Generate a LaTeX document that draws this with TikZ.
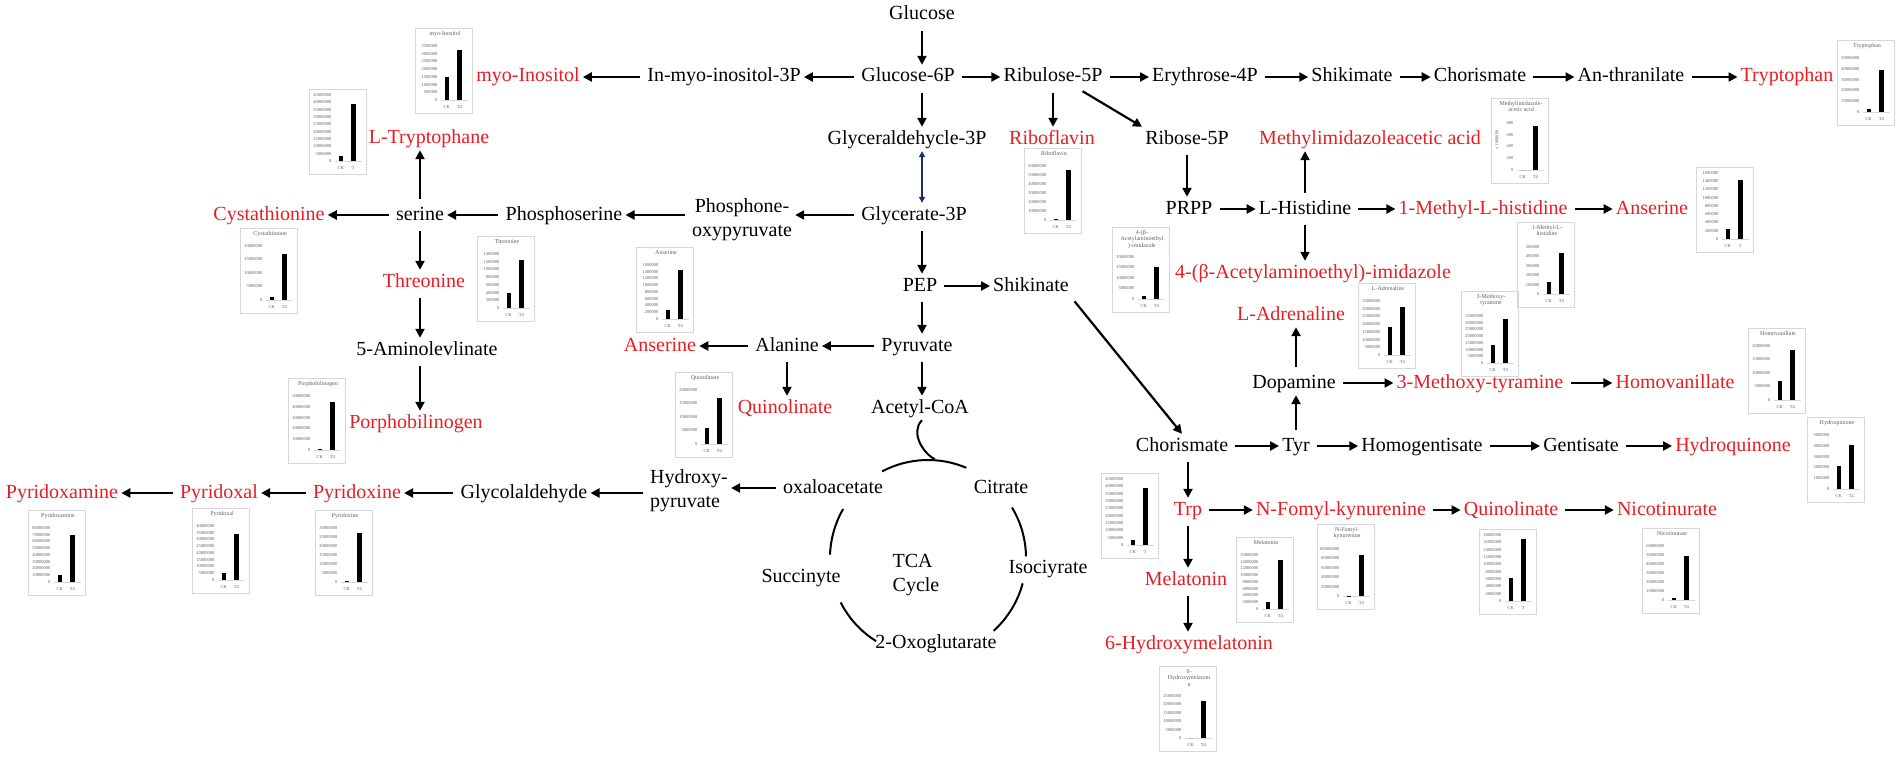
\documentclass[tikz,border=0pt]{standalone}
\usepackage{fontspec}
\setmainfont{Liberation Serif}
\usepackage{tikz}
\usetikzlibrary{calc,arrows.meta}

\definecolor{upred}{RGB}{230,30,35}
\definecolor{navyline}{RGB}{25,45,115}
\definecolor{boxgray}{RGB}{215,215,215}
\definecolor{labgray}{RGB}{95,95,95}

% small bar chart: x, y, title, plot top, intervals, tick labels, CK, T, T label
\newcommand{\minichart}[9]{%
  \begin{scope}[shift={(#1,#2)}]
    \draw[chartbox] (0,0) rectangle (57,85);
    \node[charttitle] at (30,3) {#3};
    \foreach \lab [count=\i from 0] in {#6}
      \node[charttick, anchor=east] at (23,{72-\i*(72-#4)/#5}) {\lab};
    \draw[chartaxis] (26,72) -- (53,72);
    \fill (29.5,72) rectangle (34,{72-(72-#4)*#7});
    \fill (42,72) rectangle (46.5,{72-(72-#4)*#8});
    \node[charttick] at (31.75,79) {CK};
    \node[charttick] at (44.25,79) {#9};
  \end{scope}}

\begin{document}
\begin{tikzpicture}[x=1pt,y=-1pt,
    met/.style={font=\fontsize{20}{24}\selectfont, inner sep=3pt, text height=14pt, text depth=4pt},
    upmet/.style={met, text=upred},
    twoline/.style={font=\fontsize{20}{24}\selectfont, inner sep=3pt},
    arr/.style={line width=2.2pt, shorten <=4pt, -{Triangle[length=9pt,width=9pt]}},
    dblarr/.style={line width=1.4pt, navyline, {Triangle[length=6pt,width=6pt]}-{Triangle[length=6pt,width=6pt]}},
    cyc/.style={line width=2pt},
    chartbox/.style={draw=boxgray, line width=0.6pt},
    chartaxis/.style={draw=boxgray, line width=0.4pt},
    charttitle/.style={anchor=north, align=center, inner sep=0pt, text=labgray, font=\fontsize{6}{6.5}\selectfont},
    charttick/.style={inner sep=0.5pt, text=labgray, font=\fontsize{4.5}{5}\selectfont}]

    \useasboundingbox (0,0) rectangle (1902,757);

    % top row
    \node[met] (glucose) at (922,15) {Glucose};
    \node[met] (gsix) at (908,77) {Glucose-6P};
    \node[met] (inmyo) at (724,77) {In-myo-inositol-3P};
    \node[upmet] (myoino) at (528,77) {myo-Inositol};
    \node[met] (ribulose) at (1053,77) {Ribulose-5P};
    \node[met] (erythrose) at (1205,77) {Erythrose-4P};
    \node[met] (shikimate) at (1352,77) {Shikimate};
    \node[met] (chortop) at (1480,77) {Chorismate};
    \node[met] (anthra) at (1631,77) {An-thranilate};
    \node[upmet] (tryptophan) at (1787,77) {Tryptophan};

    % second row
    \node[upmet] (ltrp) at (429,138) {L-Tryptophane};
    \node[met] (gly3p) at (907,139) {Glyceraldehycle-3P};
    \node[upmet] (riboflavin) at (1052,139) {Riboflavin};
    \node[met] (ribose) at (1187,139) {Ribose-5P};
    \node[upmet] (methyl) at (1370,139) {Methylimidazoleacetic acid};

    % serine / histidine row
    \node[upmet] (cysta) at (269,215) {Cystathionine};
    \node[met] (serine) at (420,215) {serine};
    \node[met] (phser) at (564,215) {Phosphoserine};
    \node[twoline, align=center] (phone) at (742,220) {Phosphone-\\oxypyruvate};
    \node[met] (glycerate) at (914,215) {Glycerate-3P};
    \node[met] (prpp) at (1189,209) {PRPP};
    \node[met] (lhis) at (1305,209) {L-Histidine};
    \node[upmet] (mlhis) at (1483,209) {1-Methyl-L-histidine};
    \node[upmet] (anserR) at (1652,209) {Anserine};

    % middle part
    \node[upmet] (threo) at (424,282) {Threonine};
    \node[upmet] (acetyl4) at (1313,273) {4-(β-Acetylaminoethyl)-imidazole};
    \node[met] (pep) at (920,286) {PEP};
    \node[met] (shikinate) at (1031,286) {Shikinate};
    \node[upmet] (ladren) at (1291,315) {L-Adrenaline};
    \node[met] (amino) at (427,350) {5-Aminolevlinate};
    \node[upmet] (anserL) at (660,346) {Anserine};
    \node[met] (alanine) at (787,346) {Alanine};
    \node[met] (pyruvate) at (917,346) {Pyruvate};
    \node[met] (dopamine) at (1294,383) {Dopamine};
    \node[upmet] (methoxy) at (1480,383) {3-Methoxy-tyramine};
    \node[upmet] (homova) at (1675,383) {Homovanillate};
    \node[upmet] (quinL) at (785,408) {Quinolinate};
    \node[met] (acetyl) at (920,408) {Acetyl-CoA};
    \node[upmet] (porpho) at (416,423) {Porphobilinogen};
    \node[met] (chormid) at (1182,446) {Chorismate};
    \node[met] (tyr) at (1296,446) {Tyr};
    \node[met] (homogen) at (1422,446) {Homogentisate};
    \node[met] (gentis) at (1581,446) {Gentisate};
    \node[upmet] (hydroq) at (1733,446) {Hydroquinone};

    % lower part
    \node[twoline, align=left] (hydroxy) at (689,491) {Hydroxy-\\pyruvate};
    \node[met] (oxalo) at (833,488) {oxaloacetate};
    \node[met] (citrate) at (1001,488) {Citrate};
    \node[upmet] (pyridoxamine) at (62,493) {Pyridoxamine};
    \node[upmet] (pyridoxal) at (219,493) {Pyridoxal};
    \node[upmet] (pyridoxine) at (357,493) {Pyridoxine};
    \node[met] (glycol) at (524,493) {Glycolaldehyde};
    \node[upmet] (trp) at (1188,510) {Trp};
    \node[upmet] (nfomyl) at (1341,510) {N-Fomyl-kynurenine};
    \node[upmet] (quinR) at (1511,510) {Quinolinate};
    \node[upmet] (nicotin) at (1667,510) {Nicotinurate};
    \node[twoline, align=left] (tca) at (916,575) {TCA\\Cycle};
    \node[met] (succ) at (801,577) {Succinyte};
    \node[met] (isoc) at (1048,568) {Isociyrate};
    \node[upmet] (melatonin) at (1186,580) {Melatonin};
    \node[met] (oxoglu) at (936,643) {2-Oxoglutarate};
    \node[upmet] (hydroxymel) at (1189,644) {6-Hydroxymelatonin};

    % glycolysis spine
    \draw[arr] (glucose.south) -- (glucose.south |- gsix.north);
    \draw[arr] (glucose |- gsix.south) -- (glucose |- gly3p.north);
    \draw[dblarr] (glucose |- gly3p.south) -- (glucose |- glycerate.north);
    \draw[arr] (glucose |- glycerate.south) -- (glucose |- pep.north);
    \draw[arr] (glucose |- pep.south) -- (glucose |- pyruvate.north);
    \draw[arr] (glucose |- pyruvate.south) -- (glucose |- acetyl.north);

    % top row arrows
    \draw[arr] (gsix) -- (inmyo);
    \draw[arr] (inmyo) -- (myoino);
    \draw[arr] (gsix) -- (ribulose);
    \draw[arr] (ribulose) -- (erythrose);
    \draw[arr] (erythrose) -- (shikimate);
    \draw[arr] (shikimate) -- (chortop);
    \draw[arr] (chortop) -- (anthra);
    \draw[arr] (anthra) -- (tryptophan);

    % pentose and histidine
    \draw[arr] (ribulose.south) -- (ribulose.south |- riboflavin.north);
    \draw[arr] (ribulose.335) -- (ribose.north west);
    \draw[arr] (ribose.south) -- (ribose.south |- prpp.north);
    \draw[arr] (prpp) -- (lhis);
    \draw[arr] (lhis.north) -- (lhis.north |- methyl.south);
    \draw[arr] (lhis) -- (mlhis);
    \draw[arr] (mlhis) -- (anserR);
    \draw[arr] (lhis.south) -- (lhis.south |- acetyl4.north);

    % serine branch
    \draw[arr] (glycerate.west) -- (glycerate.west -| phone.east);
    \draw[arr] (phone.west |- phser) -- (phser);
    \draw[arr] (phser) -- (serine);
    \draw[arr] (serine) -- (cysta);
    \draw[arr] (serine.north) -- (serine.north |- ltrp.south);
    \draw[arr] (serine.south) -- (serine.south |- threo.north);
    \draw[arr] (serine |- threo.south) -- (serine |- amino.north);
    \draw[arr] (serine |- amino.south) -- (serine |- porpho.north);

    % pyruvate branch
    \draw[arr] (pep) -- (shikinate);
    \draw[arr] (pyruvate) -- (alanine);
    \draw[arr] (alanine) -- (anserL);
    \draw[arr] (alanine.south) -- (alanine.south |- quinL.north);

    % aromatic branch
    \draw[arr] (shikinate.south east) -- (chormid.north);
    \draw[arr] (chormid) -- (tyr);
    \draw[arr] (tyr.north) -- (tyr.north |- dopamine.south);
    \draw[arr] (tyr |- dopamine.north) -- (tyr |- ladren.south);
    \draw[arr] (dopamine) -- (methoxy);
    \draw[arr] (methoxy) -- (homova);
    \draw[arr] (tyr) -- (homogen);
    \draw[arr] (homogen) -- (gentis);
    \draw[arr] (gentis) -- (hydroq);
    \draw[arr] (trp |- chormid.south) -- (trp.north);
    \draw[arr] (trp) -- (nfomyl);
    \draw[arr] (nfomyl) -- (quinR);
    \draw[arr] (quinR) -- (nicotin);
    \draw[arr] (trp.south) -- (trp.south |- melatonin.north);
    \draw[arr] (trp |- melatonin.south) -- (trp |- hydroxymel.north);

    % vitamin B6 row
    \draw[arr] (oxalo.west) -- (oxalo.west -| hydroxy.east);
    \draw[arr] (hydroxy.west |- glycol) -- (glycol);
    \draw[arr] (glycol) -- (pyridoxine);
    \draw[arr] (pyridoxine) -- (pyridoxal);
    \draw[arr] (pyridoxal) -- (pyridoxamine);

    % TCA cycle
    \coordinate (tcac) at (928,558);
    \draw[cyc] (glucose |- acetyl.south) .. controls +(-12,12) and +(-12,-6) .. ($(tcac)+(-86:99)$);
    \draw[cyc] ($(tcac)+(-118:98)$) arc[start angle=-118, end angle=-67, radius=98];
    \draw[cyc] ($(tcac)+(-150:98)$) arc[start angle=-150, end angle=-178, radius=98];
    \draw[cyc] ($(tcac)+(-207:98)$) arc[start angle=-207, end angle=-238, radius=98];
    \draw[cyc] ($(tcac)+(-31:98)$) arc[start angle=-31, end angle=-1, radius=98];
    \draw[cyc] ($(tcac)+(15:98)$) arc[start angle=15, end angle=48, radius=98];

    % the bar charts
    \minichart{415}{28}{myo-Inositol}{18}{7}{0,500000,1000000,1500000,2000000,2500000,3000000,3500000}{0.43}{0.93}{T4}
    \minichart{309}{89}{}{6}{9}{0,5000000,10000000,15000000,20000000,25000000,30000000,35000000,40000000,45000000}{0.07}{0.87}{T}
    \minichart{240}{228}{Cystathionine}{18}{4}{0,5000000,10000000,15000000,20000000}{0.05}{0.86}{T4}
    \minichart{477}{236}{Threonine}{18}{7}{0,200000,400000,600000,800000,1000000,1200000,1400000}{0.27}{0.89}{T4}
    \minichart{288}{378}{Porphobilinogen}{18}{5}{0,10000000,20000000,30000000,40000000,50000000}{0.01}{0.88}{T4}
    \minichart{28}{510}{Pyridoxamine}{18}{8}{0,10000000,20000000,30000000,40000000,50000000,60000000,70000000,80000000}{0.13}{0.87}{T4}
    \minichart{192}{508}{Pyridoxal}{18}{8}{0,5000000,10000000,15000000,20000000,25000000,30000000,35000000,40000000}{0.13}{0.85}{T4}
    \minichart{315}{510}{Pyridoxine}{18}{6}{0,5000000,10000000,15000000,20000000,25000000,30000000}{0.01}{0.91}{T4}
    \minichart{636}{247}{Anserine}{18}{8}{0,200000,400000,600000,800000,1000000,1200000,1400000,1600000}{0.16}{0.9}{T4}
    \minichart{675}{372}{Quinolinate}{18}{4}{0,5000000,10000000,15000000,20000000}{0.3}{0.85}{T4}
    \minichart{1024}{148}{Riboflavin}{18}{6}{0,10000000,20000000,30000000,40000000,50000000,60000000}{0.02}{0.92}{T4}
    \minichart{1112}{227}{4-(β-\\Acetylaminoethyl\\)-imidazole}{30}{4}{0,5000000,10000000,15000000,20000000}{0.07}{0.76}{T4}
    \minichart{1491}{98}{Methylimidazole-\\acetic acid}{25}{4}{0,200,400,600,800}{0}{0.94}{T4}
    \node[charttick, rotate=90] (methylunit) at (1497,140) {x 1000000};
    \minichart{1837}{40}{Tryptophan}{18}{5}{0,10000000,20000000,30000000,40000000,50000000}{0.06}{0.78}{T4}
    \minichart{1517}{222}{1-Methyl-L-\\histidine}{25}{5}{0,100000,200000,300000,400000,500000}{0.26}{0.88}{T4}
    \minichart{1696}{167}{}{6}{8}{0,200000,400000,600000,800000,1000000,1200000,1400000,1600000}{0.15}{0.9}{T}
    \minichart{1358}{283}{L-Adrenaline}{18}{7}{0,5000000,10000000,15000000,20000000,25000000,30000000,35000000}{0.52}{0.89}{T4}
    \minichart{1461}{291}{3-Methoxy-\\tyramine}{25}{7}{0,5000000,10000000,15000000,20000000,25000000,30000000,35000000}{0.38}{0.94}{T4}
    \minichart{1748}{328}{Homovanillate}{18}{4}{0,5000000,10000000,15000000,20000000}{0.35}{0.93}{T4}
    \minichart{1807}{417}{Hydroquinone}{18}{5}{0,1000000,2000000,3000000,4000000,5000000}{0.42}{0.82}{T4}
    \minichart{1101}{473}{}{6}{9}{0,5000000,10000000,15000000,20000000,25000000,30000000,35000000,40000000,45000000}{0.07}{0.87}{T}
    \minichart{1236}{537}{Melatonin}{18}{8}{0,2000000,4000000,6000000,8000000,10000000,12000000,14000000,16000000}{0.13}{0.91}{T4}
    \minichart{1159}{666}{6-\\Hydroxymelatoni\\n}{30}{5}{0,5000000,10000000,15000000,20000000,25000000}{0}{0.88}{T4}
    \minichart{1317}{524}{N-Fomyl-\\kynurenine}{25}{5}{0,20000000,40000000,60000000,80000000,100000000}{0.01}{0.88}{T4}
    \minichart{1479}{529}{}{6}{9}{0,2000000,4000000,6000000,8000000,10000000,12000000,14000000,16000000,18000000}{0.35}{0.94}{T}
    \minichart{1642}{528}{Nicotinurate}{18}{6}{0,10000000,20000000,30000000,40000000,50000000,60000000}{0.03}{0.82}{T4}

\end{tikzpicture}
\end{document}
